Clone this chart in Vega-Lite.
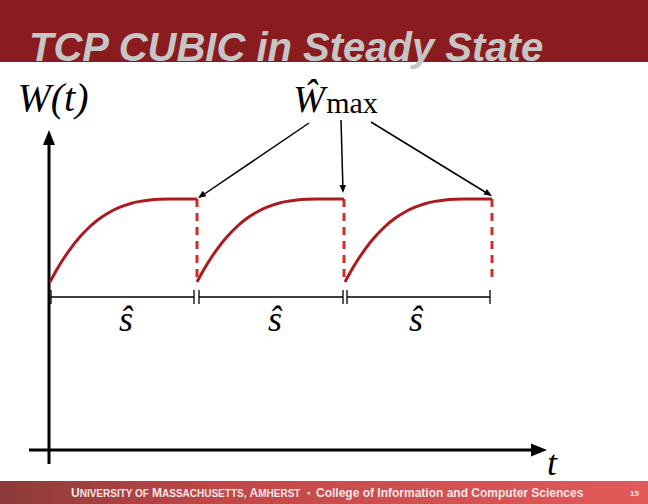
{
  "$schema": "https://vega.github.io/schema/vega-lite/v6.json",
  "width": 648,
  "height": 504,
  "padding": 0,
  "autosize": {"type": "fit", "contains": "padding"},
  "background": "white",
  "config": {"view": {"stroke": null}},
  "datasets": {
    "titleband": [{"x": 0, "x2": 648, "y": 0, "y2": 62}],
    "footband": [{"x": 0, "x2": 648, "y": 481, "y2": 504}],
    "curves": [
      {"seg": 1, "x": 50, "y": 282}, {"seg": 1, "x": 55, "y": 272.8}, {"seg": 1, "x": 60, "y": 264.3}, {"seg": 1, "x": 65, "y": 256.5}, {"seg": 1, "x": 70, "y": 249.3}, {"seg": 1, "x": 80, "y": 236.8}, {"seg": 1, "x": 90, "y": 226.5}, {"seg": 1, "x": 100, "y": 218.3}, {"seg": 1, "x": 110, "y": 212}, {"seg": 1, "x": 120, "y": 207.2}, {"seg": 1, "x": 130, "y": 203.7}, {"seg": 1, "x": 140, "y": 201.4}, {"seg": 1, "x": 150, "y": 200}, {"seg": 1, "x": 160, "y": 199.3}, {"seg": 1, "x": 170, "y": 199}, {"seg": 1, "x": 180, "y": 199}, {"seg": 1, "x": 197, "y": 199},
      {"seg": 2, "x": 197, "y": 282}, {"seg": 2, "x": 202, "y": 272.8}, {"seg": 2, "x": 207, "y": 264.3}, {"seg": 2, "x": 212, "y": 256.5}, {"seg": 2, "x": 217, "y": 249.3}, {"seg": 2, "x": 227, "y": 236.8}, {"seg": 2, "x": 237, "y": 226.5}, {"seg": 2, "x": 247, "y": 218.3}, {"seg": 2, "x": 257, "y": 212}, {"seg": 2, "x": 267, "y": 207.2}, {"seg": 2, "x": 277, "y": 203.7}, {"seg": 2, "x": 287, "y": 201.4}, {"seg": 2, "x": 297, "y": 200}, {"seg": 2, "x": 307, "y": 199.3}, {"seg": 2, "x": 317, "y": 199}, {"seg": 2, "x": 327, "y": 199}, {"seg": 2, "x": 344, "y": 199},
      {"seg": 3, "x": 345, "y": 282}, {"seg": 3, "x": 350, "y": 272.8}, {"seg": 3, "x": 355, "y": 264.3}, {"seg": 3, "x": 360, "y": 256.5}, {"seg": 3, "x": 365, "y": 249.3}, {"seg": 3, "x": 375, "y": 236.8}, {"seg": 3, "x": 385, "y": 226.5}, {"seg": 3, "x": 395, "y": 218.3}, {"seg": 3, "x": 405, "y": 212}, {"seg": 3, "x": 415, "y": 207.2}, {"seg": 3, "x": 425, "y": 203.7}, {"seg": 3, "x": 435, "y": 201.4}, {"seg": 3, "x": 445, "y": 200}, {"seg": 3, "x": 455, "y": 199.3}, {"seg": 3, "x": 465, "y": 199}, {"seg": 3, "x": 475, "y": 199}, {"seg": 3, "x": 492, "y": 199}
    ],
    "dashes": [
      {"x": 197, "x2": 197, "y": 199, "y2": 282},
      {"x": 344, "x2": 344, "y": 199, "y2": 282},
      {"x": 492, "x2": 492, "y": 199, "y2": 282}
    ],
    "axes": [
      {"x": 49, "x2": 49, "y": 140, "y2": 464},
      {"x": 29, "x2": 534, "y": 450, "y2": 450}
    ],
    "pointers": [
      {"x": 309, "x2": 200, "y": 123, "y2": 197},
      {"x": 341, "x2": 343, "y": 120, "y2": 191},
      {"x": 371, "x2": 490, "y": 122, "y2": 195}
    ],
    "brackets": [
      {"x": 51, "x2": 194, "y": 297, "y2": 297},
      {"x": 199, "x2": 343, "y": 297, "y2": 297},
      {"x": 347, "x2": 490, "y": 297, "y2": 297},
      {"x": 51, "x2": 51, "y": 290, "y2": 304},
      {"x": 194, "x2": 194, "y": 290, "y2": 304},
      {"x": 199, "x2": 199, "y": 290, "y2": 304},
      {"x": 343, "x2": 343, "y": 290, "y2": 304},
      {"x": 347, "x2": 347, "y": 290, "y2": 304},
      {"x": 490, "x2": 490, "y": 290, "y2": 304}
    ],
    "heads": [
      {"x": 49, "y": 130, "angle": 0, "size": 225},
      {"x": 547, "y": 450, "angle": 90, "size": 256},
      {"x": 198, "y": 198, "angle": 235.9, "size": 64},
      {"x": 343, "y": 193, "angle": 178.4, "size": 64},
      {"x": 492, "y": 196, "angle": 121.5, "size": 64}
    ],
    "title": [{"x": 29, "y": 61, "text": "TCP CUBIC in Steady State"}],
    "mathit": [
      {"x": 53, "y": 111, "size": 40, "text": "W(t)"},
      {"x": 309, "y": 112, "size": 38, "text": "Ŵ"},
      {"x": 126, "y": 331, "size": 36, "text": "ŝ"},
      {"x": 275, "y": 331, "size": 36, "text": "ŝ"},
      {"x": 416, "y": 331, "size": 36, "text": "ŝ"},
      {"x": 552, "y": 475, "size": 36, "text": "t"}
    ],
    "mathrm": [{"x": 352, "y": 113, "text": "max"}],
    "footer": [
      {"x": 71, "y": 497, "size": 12, "text": "U"},
      {"x": 79.7, "y": 497, "size": 10, "text": "NIVERSITY OF"},
      {"x": 152, "y": 497, "size": 12, "text": "M"},
      {"x": 162, "y": 497, "size": 10, "text": "ASSACHUSETTS,"},
      {"x": 249.5, "y": 497, "size": 12, "text": "A"},
      {"x": 258.2, "y": 497, "size": 10, "text": "MHERST"},
      {"x": 307, "y": 496, "size": 9, "text": "▪"},
      {"x": 316, "y": 497, "size": 12, "text": "College of Information and Computer Sciences"},
      {"x": 630, "y": 496, "size": 8, "text": "15"}
    ]
  },
  "encoding": {
    "x": {"field": "x", "type": "quantitative", "scale": {"domain": [0, 648], "nice": false, "zero": false}, "axis": null},
    "y": {"field": "y", "type": "quantitative", "scale": {"domain": [0, 504], "reverse": true, "nice": false, "zero": false}, "axis": null}
  },
  "layer": [
    {
      "data": {"name": "titleband"},
      "mark": {"type": "rect", "fill": "#8a1c1f"},
      "encoding": {"x2": {"field": "x2"}, "y2": {"field": "y2"}}
    },
    {
      "data": {"name": "footband"},
      "mark": {"type": "rect", "fill": {"gradient": "linear", "x1": 0, "y1": 0, "x2": 1, "y2": 0, "stops": [{"offset": 0, "color": "#8c3a3a"}, {"offset": 0.35, "color": "#c24747"}, {"offset": 1, "color": "#e25a5a"}]}},
      "encoding": {"x2": {"field": "x2"}, "y2": {"field": "y2"}}
    },
    {
      "data": {"name": "title"},
      "mark": {"type": "text", "font": "Liberation Sans", "fontSize": 40, "fontWeight": "bold", "fontStyle": "italic", "fill": "#c6c6c6", "align": "left", "baseline": "alphabetic"},
      "encoding": {"text": {"field": "text"}}
    },
    {
      "data": {"name": "axes"},
      "mark": {"type": "rule", "stroke": "black", "strokeWidth": 3},
      "encoding": {"x2": {"field": "x2"}, "y2": {"field": "y2"}}
    },
    {
      "data": {"name": "brackets"},
      "mark": {"type": "rule", "stroke": "black", "strokeWidth": 1.3},
      "encoding": {"x2": {"field": "x2"}, "y2": {"field": "y2"}}
    },
    {
      "data": {"name": "pointers"},
      "mark": {"type": "rule", "stroke": "black", "strokeWidth": 1.5},
      "encoding": {"x2": {"field": "x2"}, "y2": {"field": "y2"}}
    },
    {
      "data": {"name": "dashes"},
      "mark": {"type": "rule", "stroke": "#d42a2a", "strokeWidth": 3, "strokeDash": [8, 6]},
      "encoding": {"x2": {"field": "x2"}, "y2": {"field": "y2"}}
    },
    {
      "data": {"name": "curves"},
      "mark": {"type": "line", "stroke": "#ad1a1e", "strokeWidth": 3, "strokeJoin": "round", "interpolate": "monotone"},
      "encoding": {"detail": {"field": "seg"}, "order": {"field": "x"}}
    },
    {
      "data": {"name": "heads"},
      "mark": {"type": "point", "shape": "M0,0L0.8,2L-0.8,2Z", "filled": true, "fill": "black", "stroke": null, "opacity": 1},
      "encoding": {
        "angle": {"field": "angle", "type": "quantitative", "scale": null},
        "size": {"field": "size", "type": "quantitative", "scale": null}
      }
    },
    {
      "data": {"name": "mathit"},
      "mark": {"type": "text", "font": "Liberation Serif", "fontStyle": "italic", "fill": "black", "align": "center", "baseline": "alphabetic"},
      "encoding": {"text": {"field": "text"}, "size": {"field": "size", "type": "quantitative", "scale": null}}
    },
    {
      "data": {"name": "mathrm"},
      "mark": {"type": "text", "font": "Liberation Serif", "fontSize": 30, "fill": "black", "align": "center", "baseline": "alphabetic"},
      "encoding": {"text": {"field": "text"}}
    },
    {
      "data": {"name": "footer"},
      "mark": {"type": "text", "font": "Liberation Sans", "fontWeight": "bold", "fill": "#f6e6e6", "align": "left", "baseline": "alphabetic"},
      "encoding": {"text": {"field": "text"}, "size": {"field": "size", "type": "quantitative", "scale": null}}
    }
  ]
}
